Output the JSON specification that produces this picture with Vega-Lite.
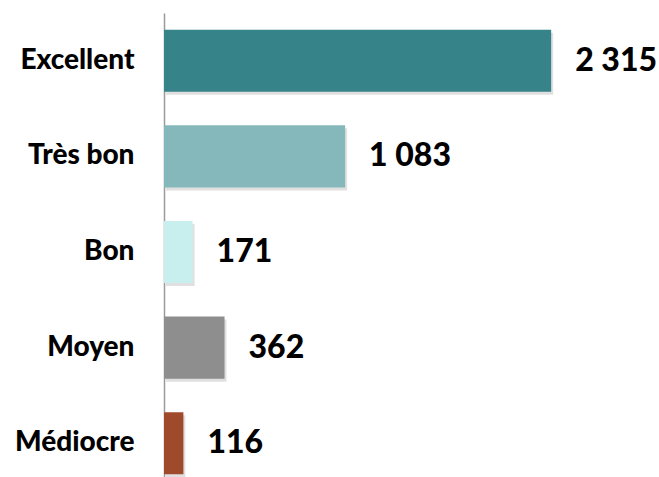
{
  "$schema": "https://vega.github.io/schema/vega-lite/v6.json",
  "width": 485,
  "height": 478,
  "padding": {"left": 164, "top": 13, "right": 10, "bottom": 0},
  "autosize": {"type": "none"},
  "background": "white",
  "config": {
    "view": {"stroke": null},
    "locale": {"number": {"decimal": ",", "thousands": " ", "grouping": [3], "currency": ["", " €"]}}
  },
  "data": {"values": [
    {"cat": "Excellent", "v": 2315},
    {"cat": "Très bon", "v": 1083},
    {"cat": "Bon", "v": 171},
    {"cat": "Moyen", "v": 362},
    {"cat": "Médiocre", "v": 116}
  ]},
  "encoding": {
    "y": {"field": "cat", "type": "nominal", "sort": null,
      "scale": {"paddingInner": 0.35, "paddingOuter": 0.175},
      "axis": {"title": null, "domainColor": "#9a9a9a", "domainWidth": 1.5, "ticks": false,
        "labelFont": "Lato", "labelFontWeight": 900, "labelFontSize": 28, "labelColor": "#000", "labelPadding": 30}},
    "x": {"field": "v", "type": "quantitative", "scale": {"domain": [0, 2900], "nice": false}, "axis": null}
  },
  "layer": [
    {"mark": {"type": "bar", "color": "#000", "opacity": 0.12, "xOffset": 2, "yOffset": 3}},
    {"mark": {"type": "bar"},
     "encoding": {"color": {"field": "cat", "type": "nominal",
       "scale": {"domain": ["Excellent", "Très bon", "Bon", "Moyen", "Médiocre"],
                 "range": ["#37838A", "#85B8BA", "#C8EFEE", "#8E8E8E", "#A04A2C"]},
       "legend": null}}},
    {"mark": {"type": "text", "align": "left", "baseline": "middle", "dx": 24, "font": "Lato", "fontWeight": 900, "fontSize": 32, "color": "#000"},
     "encoding": {"text": {"field": "v", "type": "quantitative", "format": ",d"}}}
  ]
}
